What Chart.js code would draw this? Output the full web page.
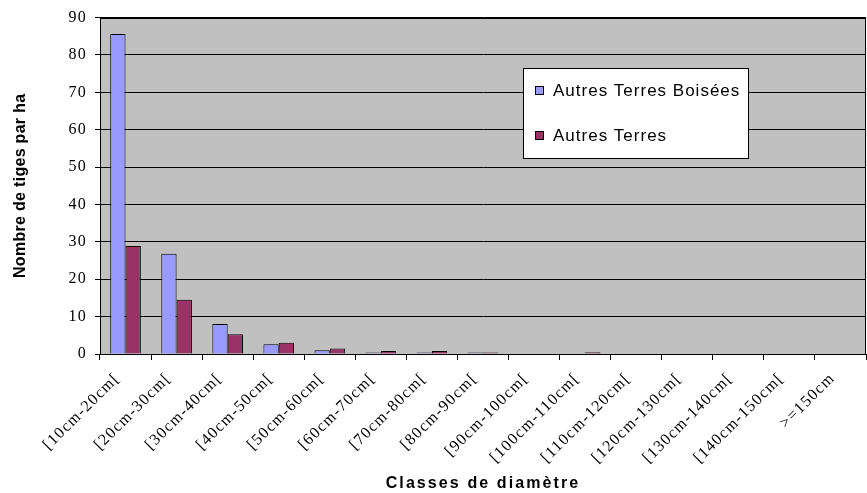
<!DOCTYPE html>
<html>
<head>
<meta charset="utf-8">
<script src="https://cdn.jsdelivr.net/npm/chart.js@4/dist/chart.umd.min.js"></script>
<style>
  html, body { margin: 0; padding: 0; background: #ffffff; }
  #wrap { width: 867px; height: 493px; }
</style>
</head>
<body>
<div id="wrap"><canvas id="c" width="867" height="493"></canvas></div>
<script>
// Diameter classes
const categories = [
  '[10cm-20cm[', '[20cm-30cm[', '[30cm-40cm[', '[40cm-50cm[', '[50cm-60cm[',
  '[60cm-70cm[', '[70cm-80cm[', '[80cm-90cm[', '[90cm-100cm[', '[100cm-110cm[',
  '[110cm-120cm[', '[120cm-130cm[', '[130cm-140cm[', '[140cm-150cm[', '>=150cm'
];
// Stems per hectare by land type
const autresTerresBoisees = [85.6, 26.8, 8.0, 2.6, 1.0, 0.4, 0.4, 0.4, 0, 0, 0, 0, 0, 0, 0];
const autresTerres        = [28.9, 14.5, 5.3, 3.0, 1.5, 0.8, 0.8, 0.4, 0, 0.5, 0, 0, 0, 0, 0];
const yTicks = [0, 10, 20, 30, 40, 50, 60, 70, 80, 90];

const serif = '"Liberation Serif", "Times New Roman", serif';
const sans = '"Liberation Sans", Arial, sans-serif';

// Slightly spaced lettering; axis titles get their own spacing
function withSpacing(scale, spacing) {
  if (scale._spaced) return;
  const orig = scale.drawTitle;
  scale.drawTitle = function () {
    const prev = this.ctx.letterSpacing;
    this.ctx.letterSpacing = spacing;
    orig.apply(this, arguments);
    this.ctx.letterSpacing = prev;
  };
  scale._spaced = true;
}
const lettering = {
  id: 'lettering',
  beforeLayout(chart) { chart.ctx.letterSpacing = '1.3px'; },
  beforeDraw(chart) {
    chart.ctx.letterSpacing = '1.3px';
    withSpacing(chart.scales.x, '2.1px');
    withSpacing(chart.scales.y, '0.3px');
  }
};

// Grey plot background with a black frame
const plotFrame = {
  id: 'plotFrame',
  beforeDraw(chart) {
    const { ctx, chartArea: a } = chart;
    ctx.save();
    ctx.fillStyle = '#c0c0c0';
    ctx.fillRect(a.left, a.top, a.right - a.left, a.bottom - a.top);
    ctx.restore();
  },
  afterDatasetsDraw(chart) {
    const { ctx, chartArea: a } = chart;
    ctx.save();
    ctx.strokeStyle = '#000';
    ctx.lineWidth = 1;
    ctx.strokeRect(Math.round(a.left) + 0.5, Math.round(a.top) + 0.5,
                   Math.round(a.right - a.left) - 1, Math.round(a.bottom - a.top));
    ctx.restore();
  }
};

// Boxed legend sitting inside the plot
const boxLegend = {
  id: 'boxLegend',
  afterDraw(chart) {
    const { ctx } = chart;
    const x = 523, y = 68, w = 225, h = 90;
    ctx.save();
    ctx.letterSpacing = '1px';
    ctx.fillStyle = '#fff';
    ctx.fillRect(x, y, w, h);
    ctx.strokeStyle = '#000';
    ctx.lineWidth = 1;
    ctx.strokeRect(x + 0.5, y + 0.5, w, h);
    ctx.font = '17px ' + sans;
    ctx.textBaseline = 'middle';
    ctx.textAlign = 'left';
    chart.data.datasets.forEach((ds, i) => {
      const cy = y + 22 + i * 45;
      ctx.fillStyle = ds.backgroundColor;
      ctx.fillRect(x + 12, cy - 4, 8, 8);
      ctx.strokeStyle = '#000';
      ctx.strokeRect(x + 12.5, cy - 3.5, 8, 8);
      ctx.fillStyle = '#000';
      ctx.fillText(ds.label, x + 30, cy + 1);
    });
    ctx.restore();
  }
};

new Chart(document.getElementById('c'), {
  type: 'bar',
  data: {
    labels: categories,
    datasets: [
      {
        label: 'Autres Terres Boisées',
        data: autresTerresBoisees,
        backgroundColor: '#9999ff',
        borderColor: '#000',
        borderWidth: 1,
        categoryPercentage: 0.6,
        barPercentage: 1.0
      },
      {
        label: 'Autres Terres',
        data: autresTerres,
        backgroundColor: '#993366',
        borderColor: '#000',
        borderWidth: 1,
        categoryPercentage: 0.6,
        barPercentage: 1.0
      }
    ]
  },
  options: {
    responsive: false,
    animation: false,
    layout: { padding: { top: 13, right: 1, left: 0, bottom: 0 } },
    plugins: {
      legend: { display: false },
      tooltip: { enabled: false }
    },
    scales: {
      x: {
        grid: {
          offset: true,
          drawOnChartArea: false,
          drawTicks: true,
          tickLength: 6,
          color: '#000'
        },
        border: { color: '#000', width: 1 },
        ticks: {
          color: '#000',
          font: { family: serif, size: 16 },
          maxRotation: 45,
          minRotation: 45,
          autoSkip: false,
          padding: 9,
          labelOffset: -8
        },
        title: {
          display: true,
          text: 'Classes de diamètre',
          color: '#000',
          font: { family: sans, size: 16, weight: 'bold' },
          padding: { top: 0, bottom: 0 }
        },
        afterFit(scale) { scale.height = 139; }
      },
      y: {
        min: 0,
        max: 90,
        afterBuildTicks(scale) { scale.ticks = yTicks.map(v => ({ value: v })); },
        grid: {
          color: '#000',
          drawTicks: true,
          tickLength: 5
        },
        border: { color: '#000', width: 1 },
        ticks: {
          color: '#000',
          font: { family: serif, size: 16 },
          padding: 8
        },
        title: {
          display: true,
          text: 'Nombre de tiges par ha',
          color: '#000',
          font: { family: sans, size: 16, weight: 'bold' },
          padding: { top: 11, bottom: 0 }
        },
        afterFit(scale) { scale.width = 100; }
      }
    }
  },
  plugins: [lettering, plotFrame, boxLegend]
});
</script>
</body>
</html>
